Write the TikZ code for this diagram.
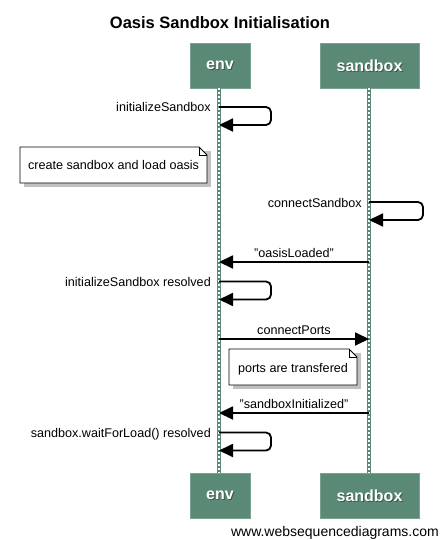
\documentclass[tikz,border=0pt]{standalone}
\usepackage{fontspec}
\setmainfont{Liberation Sans}
\usetikzlibrary{arrows.meta}
\definecolor{boxgreen}{RGB}{90,138,118}
\definecolor{shadowgray}{RGB}{150,150,150}
\tikzset{
  actor/.style={fill=boxgreen, draw=boxgreen!80!white, line width=0.6pt, minimum height=45pt, inner sep=0pt,
    text=white, font=\fontsize{16}{18}\selectfont\bfseries},
  actorshadow/.style={text=black, text opacity=0.35, inner sep=0pt, font=\fontsize{16}{18}\selectfont\bfseries},
  msg/.style={font=\fontsize{12.6}{14}\selectfont, inner sep=0pt},
  arr/.style={line width=1.8pt, -{Triangle[length=14pt,width=13pt]}},
  selfarr/.style={arr, rounded corners=5pt},
  lifeg/.style={boxgreen, line width=3.6pt},
  lifew/.style={white, line width=1.2pt, dash pattern=on 2pt off 2pt},
  notebox/.style={draw=black, fill=white, line width=0.8pt},
  noteshadow/.style={fill=shadowgray, opacity=0.6},
}
\begin{document}
\begin{tikzpicture}[x=1pt,y=-1pt]
\useasboundingbox (0,0) rectangle (439,540);
% title
\node[font=\fontsize{16.5}{20}\selectfont\bfseries, anchor=base] (title) at (220,29) {Oasis Sandbox Initialisation};
% actors
\node[actor, minimum width=60pt] (envtop) at (220,65.5) {};
\node[actor, minimum width=99pt] (sbtop) at (369.5,65.5) {};
\node[actor, minimum width=60pt] (envbot) at (220,495.5) {};
\node[actor, minimum width=99pt] (sbbot) at (369.5,495.5) {};
\foreach \n/\t in {envtop/env, sbtop/sandbox, envbot/env, sbbot/sandbox}{
  \node[actorshadow] at ([xshift=1pt,yshift=-1.2pt]\n.center) {\t};
  \node[actorshadow, text=white, text opacity=1] at (\n.center) {\t};
}
\coordinate (envA) at (219,88);
\coordinate (envB) at (219,473);
\coordinate (sbA) at (369,88);
\coordinate (sbB) at (369,473);
% lifelines
\draw[lifeg] (envA) -- (envB);
\draw[lifew] (envA) -- (envB);
\draw[lifeg] (sbA) -- (sbB);
\draw[lifew] (sbA) -- (sbB);

% 1 initializeSandbox
\coordinate (m1a) at (219,107);
\coordinate (m1b) at (219,125);
\draw[selfarr] (m1a) -- (271,107) -- (271,125) -- (m1b);
\node[msg, anchor=base east] (t1) at (211,112) {initializeSandbox};

% note 1
\fill[noteshadow] (24,151) rectangle (211,187);
\draw[notebox] (20,147) -- (199,147) -- (207,155) -- (207,183) -- (20,183) -- cycle;
\draw[line width=0.6pt] (199,147) -- (199,155) -- (207,155);
\node[msg, anchor=base] (n1) at (113.5,170) {create sandbox and load oasis};

% 3 connectSandbox
\coordinate (m3a) at (369,202);
\coordinate (m3b) at (369,220);
\draw[selfarr] (m3a) -- (423,202) -- (423,220) -- (m3b);
\node[msg, anchor=base east] (t3) at (362,207) {connectSandbox};

% 4 oasisLoaded
\coordinate (m4a) at (369,262);
\coordinate (m4b) at (219,262);
\draw[arr] (m4a) -- (m4b);
\node[msg, anchor=base] (t4) at (294,257) {"oasisLoaded"};

% 5 initializeSandbox resolved
\coordinate (m5a) at (219,281.5);
\coordinate (m5b) at (219,299.5);
\draw[selfarr] (m5a) -- (271,281.5) -- (271,299.5) -- (m5b);
\node[msg, anchor=base east] (t5) at (211,286) {initializeSandbox resolved};

% 6 connectPorts
\coordinate (m6a) at (219,339);
\coordinate (m6b) at (369,339);
\draw[arr] (m6a) -- (m6b);
\node[msg, anchor=base] (t6) at (294,334) {connectPorts};

% note 2
\fill[noteshadow] (233,353) rectangle (361,389);
\draw[notebox] (229,349) -- (349,349) -- (357,357) -- (357,385) -- (229,385) -- cycle;
\draw[line width=0.6pt] (349,349) -- (349,357) -- (357,357);
\node[msg, anchor=base] (n2) at (293,372) {ports are transfered};

% 8 sandboxInitialized
\coordinate (m8a) at (369,413);
\coordinate (m8b) at (219,413);
\draw[arr] (m8a) -- (m8b);
\node[msg, anchor=base] (t8) at (294,408.5) {"sandboxInitialized"};

% 9 waitForLoad
\coordinate (m9a) at (219,432.5);
\coordinate (m9b) at (219,450.5);
\draw[selfarr] (m9a) -- (271,432.5) -- (271,450.5) -- (m9b);
\node[msg, anchor=base east] (t9) at (211,437) {sandbox.waitForLoad() resolved};

% footer
\node[font=\fontsize{14}{16}\selectfont, anchor=base east, inner sep=0pt] (foot) at (439,536) {www.websequencediagrams.com};
\end{tikzpicture}
\end{document}
